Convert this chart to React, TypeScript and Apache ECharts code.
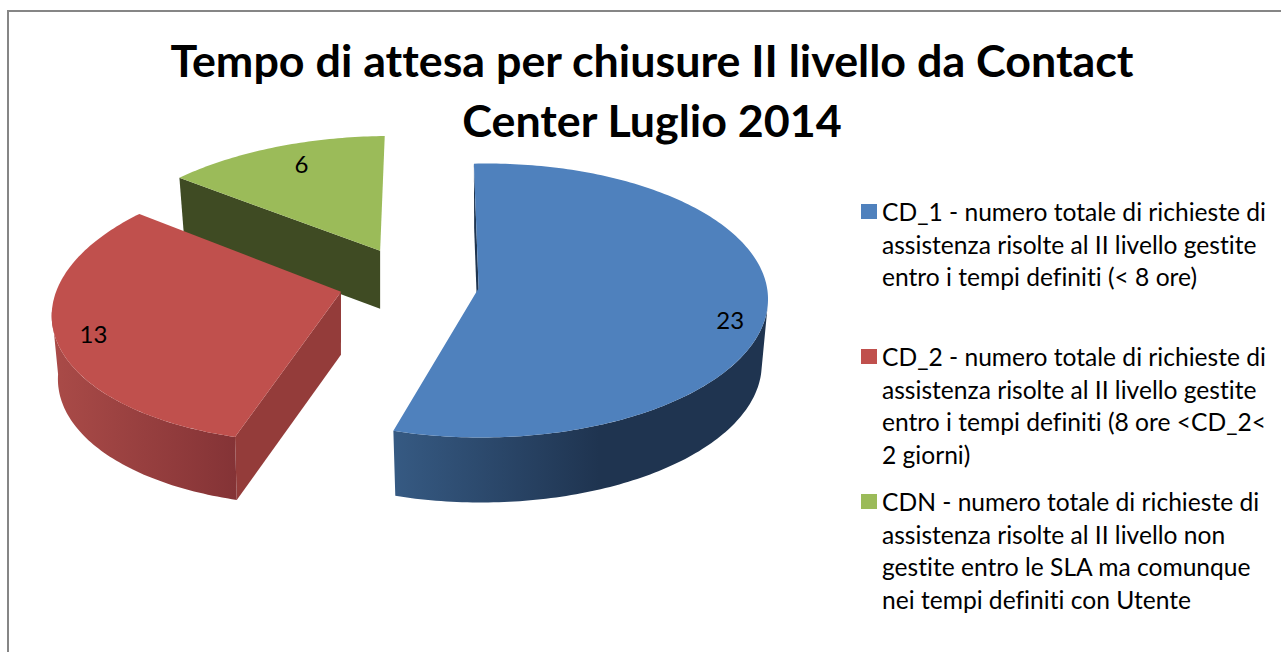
import React, { useEffect, useRef } from "react";
import * as echarts from "echarts";

const titleLines = ["Tempo di attesa per chiusure II livello da Contact", "Center Luglio 2014"];
const categories = ["CD_1", "CD_2", "CDN"];
const values = [23, 13, 6];
const legendLines = [
  ["CD_1 - numero totale di richieste di", "assistenza risolte al II livello gestite", "entro i tempi definiti (< 8 ore)"],
  ["CD_2 - numero totale di richieste di", "assistenza risolte al II livello gestite", "entro i tempi definiti (8 ore <CD_2<", "2 giorni)"],
  ["CDN - numero totale di richieste di", "assistenza risolte al II livello non", "gestite entro le SLA ma comunque", "nei tempi definiti con Utente"],
];

const FONT = "Lato";
const LEGEND_FONT = 24.6;
const LABEL_FONT = 24;
const LINE = 32.5;
const topColors = ["#4f81bd", "#c0504d", "#9bbb59"];
const innerColors = ["#1f3550", "#943c3a", "#3f4b23"];
const wallStops = [
  [[0, "#365a83"], [0.55, "#1f3450"], [1, "#1f3450"]],
  [[0, "#aa4b48"], [1, "#843336"]],
  [[0, "#3f4b23"], [1, "#3f4b23"]],
];
// projection of each exploded slice
const geometry = [
  { cx: 483.5, cy: 300.5, rx: 284.5, ry: 137, px: -0.018, py: -0.09, shear: -0.02, depth: 65, labelR: 0.87, dx: 0, dy: 17 },
  { cx: 335.5, cy: 305.5, rx: 283, ry: 137, px: 0.012, py: -0.1, shear: -0.156, depth: 63, labelR: 0.87, dx: 1, dy: 2 },
  { cx: 377, cy: 268, rx: 283, ry: 132, px: 0.005, py: -0.13, shear: -0.1, depth: 58, labelR: 0.8, dx: 5, dy: -4 },
];
const START_DEG = -1.6;
const BASE_SHRINK = 0.978;
const WALL_FROM = 98;
const WALL_TO = 262;
const legendIconCenters = [211.5, 356.5, 501.5];

const total = values.reduce((a, b) => a + b, 0);
const rad = (d: number) => (d * Math.PI) / 180;

function rimUnit(g: any, deg: number) {
  const dx = Math.sin(rad(deg));
  const dy = -Math.cos(rad(deg));
  const b = g.px * dx + g.py * dy;
  const c = g.px * g.px + g.py * g.py - 1;
  const s = -b + Math.sqrt(b * b - c);
  return [g.px + s * dx, g.py + s * dy];
}
function project(g: any, u: number[], base = false) {
  return [
    g.cx + g.rx * u[0] * (base ? BASE_SHRINK : 1) + g.shear * g.ry * u[1],
    g.cy + g.ry * u[1] + (base ? g.depth : 0),
  ];
}
function arc(g: any, a: number, b: number, base = false) {
  const pts: number[][] = [];
  const n = Math.max(2, Math.ceil(Math.abs(b - a)));
  for (let i = 0; i <= n; i++) pts.push(project(g, rimUnit(g, a + ((b - a) * i) / n), base));
  return pts;
}

function makeRender(index: number) {
  return (_p: any, api: any) => {
    const v = api.value(0);
    const before = values.slice(0, index).reduce((a, b) => a + b, 0);
    const a0 = START_DEG + (before / total) * 360;
    const a1 = a0 + (v / total) * 360;
    const g = geometry[index];
    const apexU = [g.px, g.py];
    const apex = project(g, apexU);
    const apexB = project(g, apexU, true);
    const children: any[] = [];
    const poly = (points: number[][], fill: any) => ({
      type: "polygon",
      shape: { points },
      style: { fill, stroke: null },
    });
    // inner wall
    children.push(
      poly([project(g, rimUnit(g, a0)), apex, apexB, project(g, rimUnit(g, a0), true)], innerColors[index])
    );
    // outer wall
    const w0 = Math.max(a0, WALL_FROM);
    const w1 = Math.min(a1, WALL_TO);
    if (w1 > w0) {
      const top = arc(g, w0, w1);
      const bot = arc(g, w0, w1, true).reverse();
      children.push(
        poly(
          top.concat(bot),
          new echarts.graphic.LinearGradient(0, 0, 1, 0, wallStops[index].map((s: any) => ({ offset: s[0], color: s[1] })))
        )
      );
    }
    // top face
    children.push(poly([apex, ...arc(g, a0, a1)], topColors[index]));
    // value label
    const mid = (a0 + a1) / 2;
    const lu = rimUnit(g, mid);
    const lp = project(g, [g.px + (lu[0] - g.px) * g.labelR, g.py + (lu[1] - g.py) * g.labelR]);
    children.push({
      type: "text",
      style: {
        text: String(v),
        x: lp[0] + g.dx,
        y: lp[1] + g.dy,
        align: "center",
        verticalAlign: "middle",
        fontFamily: FONT,
        fontSize: LABEL_FONT,
        fill: "#000000",
      },
    });
    return { type: "group", children };
  };
}

export default function App() {
  const ref = useRef<HTMLDivElement>(null);
  useEffect(() => {
    document.body.style.margin = "0";
    document.body.style.overflow = "hidden";
    const chart = echarts.init(ref.current!, undefined, { renderer: "svg" });
    const names = legendLines.map((l) => l.join(" "));
    chart.setOption({
      animation: false,
      backgroundColor: "#ffffff",
      title: {
        text: titleLines.join("\n"),
        left: 647,
        top: 25,
        textAlign: "center",
        textStyle: { fontFamily: FONT, fontWeight: "bold", fontSize: 44.8, lineHeight: 60, color: "#000000" },
      },
      graphic: [
        {
          type: "rect",
          silent: true,
          z: -10,
          shape: { x: 8, y: 11, width: 1500, height: 900 },
          style: { fill: "none", stroke: "#868686", lineWidth: 2 },
        },
      ],
      // Leading blank lines keep the swatch level with the first text line.
      legend: names.map((name, i) => {
        const n = legendLines[i].length;
        return {
          left: 861,
          top: legendIconCenters[i] - ((2 * n - 1) * LINE) / 2,
          padding: 0,
          orient: "vertical",
          data: [{ name, icon: "rect" }],
          itemWidth: 16,
          itemHeight: 15,
          itemGap: 0,
          selectedMode: false,
          formatter: () => "\n".repeat(n - 1) + legendLines[i].join("\n"),
          textStyle: { fontFamily: FONT, fontSize: LEGEND_FONT, lineHeight: LINE, color: "#000000" },
        };
      }),
      series: [2, 1, 0].map((i) => ({
        type: "custom",
        name: names[i],
        coordinateSystem: "none",
        itemStyle: { color: topColors[i] },
        data: [{ value: [values[i]], name: categories[i] }],
        renderItem: makeRender(i),
        silent: true,
      })),
    });
    return () => chart.dispose();
  }, []);
  return <div ref={ref} style={{ width: 1281, height: 652, fontVariantLigatures: "none" }} />;
}
